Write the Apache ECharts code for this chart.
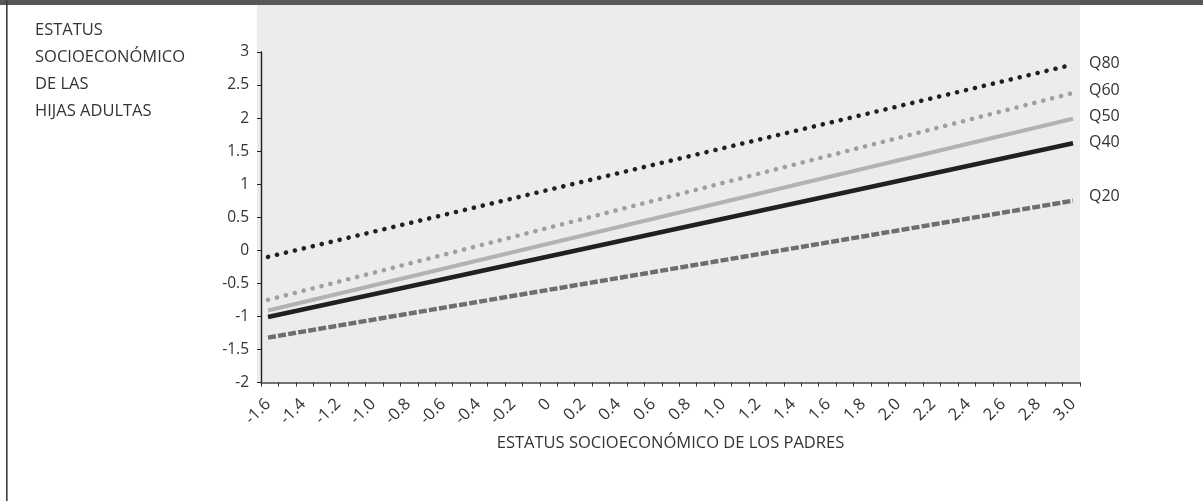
<!DOCTYPE html>
<html>
<head>
<meta charset="utf-8">
<script src="https://cdn.jsdelivr.net/npm/echarts@6/dist/echarts.min.js"></script>
<style>html,body{margin:0;padding:0;background:#fff;}#c{width:1203px;height:501px;}</style>
</head>
<body>
<div id="c"></div>
<script>
// ---- data ----
var xLabels = [-1.6,-1.4,-1.2,-1.0,-0.8,-0.6,-0.4,-0.2,0,0.2,0.4,0.6,0.8,1.0,1.2,1.4,1.6,1.8,2.0,2.2,2.4,2.6,2.8,3.0];
var xEnds = [-1.6, 3.0];
var q80 = [-0.10, 2.81];
var q60 = [-0.75, 2.38];
var q50 = [-0.91, 1.99];
var q40 = [-1.01, 1.62];
var q20 = [-1.32, 0.75];
var seriesNames = ['Q80','Q60','Q50','Q40','Q20'];
var yTitleLines = ['ESTATUS','SOCIOECONÓMICO','DE LAS','HIJAS ADULTAS'];
var xTitle = 'ESTATUS SOCIOECONÓMICO DE LOS PADRES';

var FONT = 'Open Sans';
var xMin = -1.64, xMax = 3.04;
var tickCount = 47;
var xTicks = [];
for (var k = 0; k <= tickCount; k++) xTicks.push(xMin + k * (xMax - xMin) / tickCount);

function pts(ys) { return xEnds.map(function (x, i) { return [x, ys[i]]; }); }
function fmtX(v) {
  var r = Math.round(v * 10) / 10;
  if (r === 0) return '0';
  return r.toFixed(1);
}

var chart = echarts.init(document.getElementById('c'), null, {renderer: 'canvas'});

function mk(name, ys, color, width, type, cap, dy) {
  return {
    name: name, type: 'line', data: pts(ys), showSymbol: false, silent: true,
    lineStyle: {color: color, width: width, type: type, cap: cap},
    endLabel: {show: true, formatter: name, color: '#333', fontFamily: FONT, fontSize: 16,
      distance: 16, offset: [0, dy]},
    z: 3
  };
}

var graphics = [
  {type: 'rect', shape: {x: 257, y: 5, width: 823, height: 378}, style: {fill: '#ebecec'}, z: -10, silent: true},
  {type: 'rect', shape: {x: 0, y: 0, width: 1203, height: 5}, style: {fill: '#58585a'}, silent: true},
  {type: 'rect', shape: {x: 6, y: 0, width: 1.6, height: 501}, style: {fill: '#3c3c3c'}, silent: true}
];
yTitleLines.forEach(function (t, i) {
  graphics.push({type: 'text', left: 35, top: 21.5 + i * 27,
    style: {text: t, fill: '#333', font: '16.5px "' + FONT + '"'}, silent: true});
});

chart.setOption({
  animation: false,
  backgroundColor: '#fff',
  graphic: graphics,
  grid: {left: 261, right: 123, top: 52, bottom: 118.5, containLabel: false},
  xAxis: {
    type: 'value', min: xMin, max: xMax,
    name: xTitle, nameLocation: 'middle', nameGap: 51,
    nameTextStyle: {color: '#333', fontFamily: FONT, fontSize: 16.5, verticalAlign: 'top'},
    axisLine: {show: true, onZero: false, lineStyle: {color: '#4a4a4a', width: 1.6}},
    axisTick: {show: true, length: 4, customValues: xTicks, lineStyle: {color: '#333', width: 1}},
    axisLabel: {customValues: xLabels, formatter: fmtX, rotate: 45, margin: 19,
      color: '#333', fontFamily: FONT, fontSize: 16.5},
    splitLine: {show: false}
  },
  yAxis: {
    type: 'value', min: -2, max: 3, interval: 0.5,
    axisLine: {show: true, onZero: false, lineStyle: {color: '#231f20', width: 1.4}},
    axisTick: {show: true, length: 4, lineStyle: {color: '#231f20', width: 1}},
    axisLabel: {color: '#333', fontFamily: FONT, fontSize: 15.5, margin: 12},
    splitLine: {show: false}
  },
  series: [
    mk(seriesNames[0], q80, '#231f20', 4.6, [0.1, 9.1], 'round', -1),
    mk(seriesNames[1], q60, '#9d9fa2', 4.6, [0.1, 9.1], 'round', -3),
    mk(seriesNames[2], q50, '#b1b2b4', 4.2, 'solid', 'butt', -2),
    mk(seriesNames[3], q40, '#231f20', 4.6, 'solid', 'butt', -1),
    mk(seriesNames[4], q20, '#6d6e71', 4.4, [8, 2.2], 'butt', -4)
  ]
});
</script>
</body>
</html>
